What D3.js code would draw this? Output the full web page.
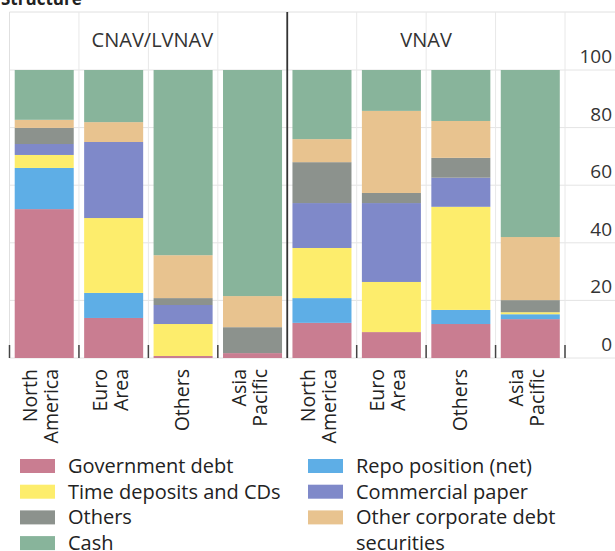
<!DOCTYPE html>
<html>
<head>
<meta charset="utf-8">
<script src="https://cdn.jsdelivr.net/npm/d3@7"></script>
<style>
  html, body { margin: 0; padding: 0; background: #fff; }
  svg { display: block; font-family: "Open Sans", "Noto Sans", sans-serif; }
</style>
</head>
<body>
<svg id="chart" width="615" height="551"></svg>
<script>
// Fund groups and regions (one bar per group/region pair)
const groups = ["CNAV/LVNAV", "VNAV"];
const regions = ["North\nAmerica", "Euro\nArea", "Others", "Asia\nPacific"];

// Portfolio shares, per cent, in bar order: CNAV/LVNAV regions, then VNAV regions
const governmentDebt   = [51.7, 13.9,  0.7,  1.7, 12.2,  9.0, 11.8, 13.5];
const repoPosition     = [14.3,  8.7,  0.0,  0.0,  8.6,  0.0,  4.9,  1.7];
const timeDeposits     = [ 4.5, 26.0, 11.1,  0.0, 17.4, 17.4, 35.8,  0.7];
const commercialPaper  = [ 3.8, 26.4,  6.6,  0.0, 15.6, 27.4, 10.1,  0.0];
const othersAssets     = [ 5.6,  0.0,  2.4,  9.0, 14.2,  3.5,  6.9,  4.2];
const otherCorpDebt    = [ 2.8,  6.9, 14.9, 10.8,  8.0, 28.5, 12.8, 21.9];
const cash             = [17.3, 18.1, 64.3, 78.5, 24.0, 14.2, 17.7, 58.0];

const yTicks = [0, 20, 40, 60, 80, 100];

// Stacking order, bottom to top
const series = [
  { key: "Government debt", values: governmentDebt, color: "#c97d91" },
  { key: "Repo position (net)", values: repoPosition, color: "#5eaee6" },
  { key: "Time deposits and CDs", values: timeDeposits, color: "#fded6c" },
  { key: "Commercial paper", values: commercialPaper, color: "#7f89c9" },
  { key: "Others", values: othersAssets, color: "#8c928d" },
  { key: "Other corporate debt securities", values: otherCorpDebt, color: "#e8c38f" },
  { key: "Cash", values: cash, color: "#88b49b" }
];

const bars = [];
groups.forEach((g, gi) => regions.forEach((r, ri) => bars.push({ id: gi * regions.length + ri, group: g, region: r })));

const rows = bars.map(b => {
  const row = { id: b.id };
  series.forEach(s => { row[s.key] = s.values[b.id]; });
  return row;
});

const svg = d3.select("#chart");

const plotLeft = 9.5, plotRight = 565, frameTop = 12, plotTop = 70, plotBottom = 358;

const x = d3.scaleBand()
  .domain(bars.map(b => b.id))
  .range([plotLeft, plotRight])
  .paddingInner(0.15)
  .paddingOuter(0.075);

const y = d3.scaleLinear().domain([0, 100]).range([plotBottom, plotTop]);

const step = x.step();
const boundary = id => x(id) - x.paddingInner() * step / 2;

// Horizontal grid
svg.append("g").selectAll("line")
  .data(yTicks)
  .join("line")
  .attr("x1", plotLeft).attr("x2", 615)
  .attr("y1", d => y(d)).attr("y2", d => y(d))
  .attr("stroke", "#e4e4e4").attr("stroke-width", 1);

// Frame top and left edges
svg.append("line").attr("x1", plotLeft).attr("x2", 615).attr("y1", frameTop).attr("y2", frameTop)
  .attr("stroke", "#e0e0e0");
svg.append("line").attr("x1", plotLeft).attr("x2", plotLeft).attr("y1", frameTop).attr("y2", plotBottom)
  .attr("stroke", "#e0e0e0");

// Vertical grid at band boundaries
const bounds = bars.slice(1).map(b => boundary(b.id)).concat([plotRight]);
svg.append("g").selectAll("line")
  .data(bounds)
  .join("line")
  .attr("x1", d => d).attr("x2", d => d)
  .attr("y1", frameTop).attr("y2", plotBottom)
  .attr("stroke", "#e8e8e8");

// Stacked bars
const stack = d3.stack().keys(series.map(s => s.key));
const stacked = stack(rows);

svg.append("g").selectAll("g")
  .data(stacked)
  .join("g")
  .attr("fill", (d, i) => series[i].color)
  .selectAll("rect")
  .data(d => d)
  .join("rect")
  .attr("x", d => x(d.data.id))
  .attr("width", x.bandwidth())
  .attr("y", d => y(d[1]))
  .attr("height", d => Math.max(0, y(d[0]) - y(d[1])));

// Bottom tick marks at band boundaries
const tickXs = [plotLeft].concat(bars.slice(1).map(b => boundary(b.id)).filter((d, i) => i !== regions.length - 1)).concat([plotRight]);
svg.append("g").selectAll("line")
  .data(tickXs)
  .join("line")
  .attr("x1", d => d).attr("x2", d => d)
  .attr("y1", plotBottom - 13).attr("y2", plotBottom)
  .attr("stroke", "#444").attr("stroke-width", 1.5);

// Separator between fund groups
const sepX = boundary(regions.length);
svg.append("line")
  .attr("x1", sepX).attr("x2", sepX)
  .attr("y1", frameTop).attr("y2", plotBottom)
  .attr("stroke", "#333").attr("stroke-width", 1.8);

// Group headers
const groupCenters = groups.map((g, gi) => {
  const first = gi * regions.length, last = first + regions.length - 1;
  return (boundary(first) + x(last) + x.bandwidth() + x.paddingInner() * step / 2) / 2;
});
svg.append("g").selectAll("text")
  .data(groups)
  .join("text")
  .attr("x", (d, i) => groupCenters[i] + (i === 0 ? 4 : 0))
  .attr("y", 47)
  .attr("text-anchor", "middle")
  .attr("font-size", 20)
  .attr("fill", "#333")
  .text(d => d);

// Y-axis labels on the right
svg.append("g").selectAll("text")
  .data(yTicks)
  .join("text")
  .attr("x", 612)
  .attr("y", d => y(d) - 7)
  .attr("text-anchor", "end")
  .attr("font-size", 19)
  .attr("fill", "#333")
  .text(d => d);

// Rotated region labels
const xl = svg.append("g").selectAll("g")
  .data(bars)
  .join("g")
  .attr("transform", d => {
    const lines = d.region.split("\n").length;
    const cx = x(d.id) + x.bandwidth() / 2 + (lines === 1 ? 6 : -7);
    return `translate(${cx},369) rotate(-90)`;
  });
xl.each(function(d) {
  const lines = d.region.split("\n");
  const t = d3.select(this).append("text")
    .attr("text-anchor", "end")
    .attr("font-size", 19.5)
    .attr("fill", "#222");
  lines.forEach((ln, i) => {
    t.append("tspan").attr("x", 0).attr("y", i * 21).text(ln);
  });
});

// Legend
const legendCols = [
  ["Government debt", "Time deposits and CDs", "Others", "Cash"],
  ["Repo position (net)", "Commercial paper", "Other corporate debt securities"]
];
const colX = [20, 308];
const colorOf = k => series.find(s => s.key === k).color;
legendCols.forEach((col, ci) => {
  col.forEach((k, ri) => {
    const yy = 466 + ri * 25.7;
    svg.append("rect")
      .attr("x", colX[ci]).attr("y", yy - 7)
      .attr("width", 35).attr("height", 14)
      .attr("fill", colorOf(k));
    const label = k === "Other corporate debt securities" ? ["Other corporate debt", "securities"] : [k];
    const t = svg.append("text")
      .attr("font-size", 20)
      .attr("fill", "#222");
    label.forEach((ln, li) => {
      t.append("tspan").attr("x", colX[ci] + 48).attr("y", yy + 7 + li * 25.7).text(ln);
    });
  });
});

// Panel title (cut by the top edge)
svg.append("text")
  .attr("x", 1).attr("y", 5)
  .attr("font-size", 17)
  .attr("font-weight", "bold")
  .attr("fill", "#222")
  .text("Structure");
</script>
</body>
</html>
